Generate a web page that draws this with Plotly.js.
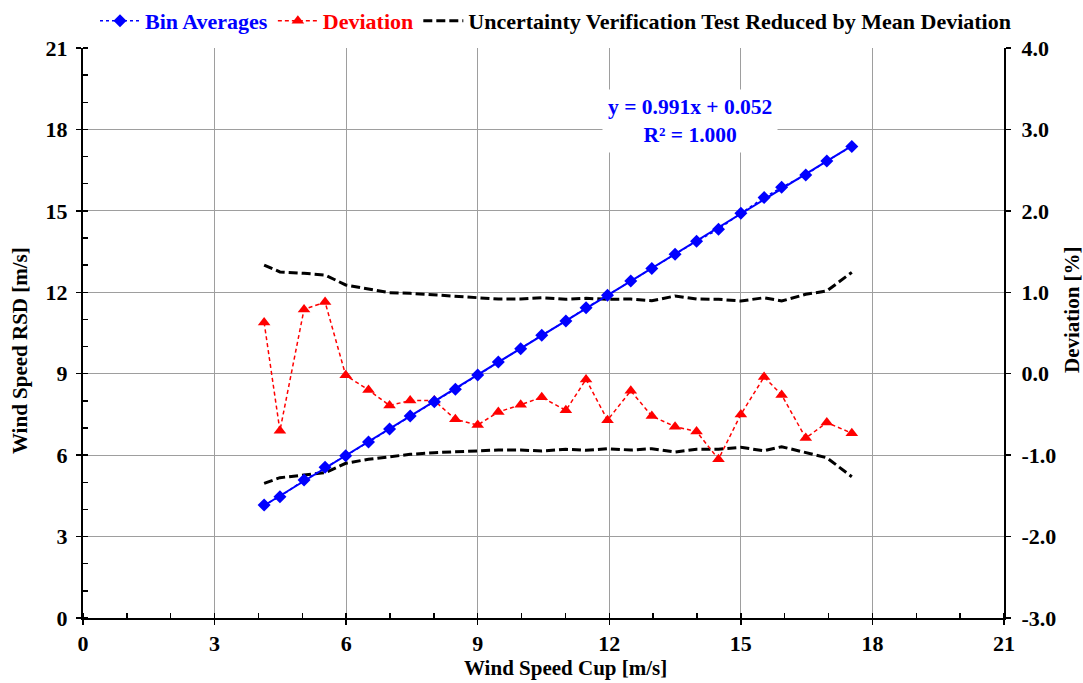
<!DOCTYPE html>
<html>
<head>
<meta charset="utf-8">
<script src="https://cdn.plot.ly/plotly-3.0.1.min.js"></script>
<style>html,body{margin:0;padding:0;background:#fff;}#chart{width:1083px;height:683px;}</style>
</head>
<body>
<div id="chart"></div>
<script>
// Wind speed bins (cup) [m/s]
const windCup = [4.13,4.49,5.04,5.52,5.99,6.51,6.99,7.46,8.01,8.49,9.00,9.47,9.98,10.46,11.01,11.47,11.96,12.49,12.97,13.50,13.99,14.49,15.00,15.53,15.93,16.48,16.96,17.53];
// Bin averaged RSD wind speed [m/s]
const windRSD = [4.16,4.47,5.08,5.55,5.98,6.48,6.96,7.44,7.97,8.43,8.95,9.43,9.92,10.42,10.94,11.43,11.89,12.42,12.88,13.40,13.88,14.32,14.91,15.49,15.87,16.32,16.84,17.37];
// Deviation [%]
const deviation = [0.63,-0.70,0.79,0.88,-0.02,-0.20,-0.39,-0.33,-0.33,-0.56,-0.63,-0.47,-0.38,-0.29,-0.45,-0.07,-0.57,-0.21,-0.52,-0.65,-0.71,-1.05,-0.50,-0.04,-0.26,-0.79,-0.60,-0.73];
// Uncertainty verification test band [%]
const uncUpper = [1.335,1.25,1.233,1.212,1.09,1.036,0.995,0.987,0.966,0.946,0.93,0.917,0.917,0.933,0.914,0.926,0.914,0.917,0.896,0.954,0.917,0.914,0.893,0.933,0.893,0.975,1.016,1.245];
const uncLower = [-1.346,-1.277,-1.244,-1.216,-1.10,-1.05,-1.02,-0.99,-0.97,-0.958,-0.948,-0.937,-0.937,-0.949,-0.928,-0.941,-0.921,-0.937,-0.921,-0.962,-0.928,-0.928,-0.904,-0.946,-0.896,-0.970,-1.032,-1.265];
const xTicks = [0,3,6,9,12,15,18,21];
const yTicks = [0,3,6,9,12,15,18,21];
const y2Ticks = [-3,-2,-1,0,1,2,3,4];
const fitText = "y = 0.991x + 0.052<br>R² = 1.000";
const xTitle = 'Wind Speed Cup [m/s]';
const yTitle = 'Wind Speed RSD [m/s]';
const y2Title = 'Deviation [%]';

// least squares trendline
const n = windCup.length;
const mx = windCup.reduce((a,b)=>a+b,0)/n, my = windRSD.reduce((a,b)=>a+b,0)/n;
let sxy=0, sxx=0;
for (let i=0;i<n;i++){ sxy += (windCup[i]-mx)*(windRSD[i]-my); sxx += (windCup[i]-mx)**2; }
const slope = sxy/sxx, icpt = my - slope*mx;
const trendX = [windCup[0], windCup[n-1]];
const trendY = trendX.map(v => slope*v + icpt);

const FONT = "'Liberation Serif', 'Times New Roman', serif";

const traces = [
  { x: windCup, y: uncUpper, yaxis: 'y', type: 'scatter', mode: 'lines',
    name: '<span style="color:#000000">Uncertainty Verification Test Reduced by Mean Deviation</span>',
    legendgroup: 'unc', legendrank: 3,
    line: {color: '#000000', width: 3, dash: '9px,4px'} },
  { x: windCup, y: uncLower, yaxis: 'y', type: 'scatter', mode: 'lines',
    legendgroup: 'unc', showlegend: false,
    line: {color: '#000000', width: 3, dash: '9px,4px'} },
  { x: windCup, y: deviation, yaxis: 'y', type: 'scatter', mode: 'lines+markers',
    name: '<span style="color:#ff0000">Deviation</span>', legendrank: 2,
    line: {color: '#ff0000', width: 1.5, dash: '4px,3px'},
    marker: {symbol: 'triangle-up', size: 11, color: '#ff0000'} },
  { x: trendX, y: trendY, yaxis: 'y2', type: 'scatter', mode: 'lines', showlegend: false,
    line: {color: '#0000ff', width: 2} },
  { x: windCup, y: windRSD, yaxis: 'y2', type: 'scatter', mode: 'lines+markers',
    name: '<span style="color:#0000ff">Bin Averages</span>', legendrank: 1,
    line: {color: '#0000ff', width: 1.5, dash: 'dot'},
    marker: {symbol: 'diamond', size: 10, color: '#0000ff'} }
];

const tickFont = {family: FONT, size: 22, color: '#000', weight: 'bold'};
const titleFont = {family: FONT, size: 21, color: '#000', weight: 'bold'};

const layout = {
  width: 1083, height: 683,
  margin: {l: 83, r: 79, t: 48, b: 65, autoexpand: false},
  paper_bgcolor: '#fff', plot_bgcolor: '#fff',
  font: {family: FONT, size: 21, color: '#000', weight: 'bold'},
  showlegend: true,
  legend: {orientation: 'h', xref: 'container', x: 95/1083, xanchor: 'left',
           yref: 'container', y: 1.0, yanchor: 'top',
           font: {family: FONT, size: 22, weight: 'bold'}, itemwidth: 40,
           bgcolor: 'rgba(0,0,0,0)', traceorder: 'normal'},
  xaxis: {range: [0, 21], tickvals: xTicks, ticktext: xTicks.map(String),
          showgrid: true, gridcolor: '#9e9e9e', gridwidth: 1,
          zeroline: false, showline: true, linecolor: '#000', linewidth: 2,
          ticks: 'outside', ticklen: 5, tickwidth: 1.5, tickcolor: '#000',
          minor: {dtick: 1, ticks: 'inside', ticklen: 5, tickwidth: 1.5, tickcolor: '#000', showgrid: false},
          tickfont: tickFont},
  yaxis: {range: [-3, 4], tickvals: y2Ticks, ticktext: y2Ticks.map(v => v.toFixed(1)),
          side: 'right',
          showgrid: true, gridcolor: '#9e9e9e', gridwidth: 1,
          zeroline: false, showline: true, linecolor: '#000', linewidth: 2,
          ticks: 'outside', ticklen: 5, tickwidth: 1.5, tickcolor: '#000',
          ticklabelstandoff: 6,
          tickfont: tickFont},
  yaxis2: {range: [0, 21], tickvals: yTicks, ticktext: yTicks.map(String),
          side: 'left', overlaying: 'y',
          showgrid: false, zeroline: false, showline: true, linecolor: '#000', linewidth: 2,
          ticks: 'outside', ticklen: 5, tickwidth: 1.5, tickcolor: '#000',
          minor: {dtick: 1, ticks: 'inside', ticklen: 5, tickwidth: 1.5, tickcolor: '#000', showgrid: false},
          ticklabelstandoff: 4,
          tickfont: tickFont},
  annotations: [
    { x: 13.84, y: 18.3, xref: 'x', yref: 'y2', text: fitText, showarrow: false,
      font: {family: FONT, size: 21.5, color: '#0000ff', weight: 'bold'},
      bgcolor: '#ffffff', borderpad: 5, align: 'center' },
    { x: (565-83)/921, y: (618-668)/570, xref: 'paper', yref: 'paper', text: xTitle, showarrow: false,
      xanchor: 'center', yanchor: 'middle', font: titleFont },
    { x: (20-83)/921, y: (618-351)/570, xref: 'paper', yref: 'paper', text: yTitle, showarrow: false,
      textangle: -90, xanchor: 'center', yanchor: 'middle', font: titleFont },
    { x: (1072-83)/921, y: (618-310)/570, xref: 'paper', yref: 'paper', text: y2Title, showarrow: false,
      textangle: -90, xanchor: 'center', yanchor: 'middle', font: titleFont }
  ]
};

Plotly.newPlot('chart', traces, layout, {displayModeBar: false, staticPlot: true});
</script>
</body>
</html>
